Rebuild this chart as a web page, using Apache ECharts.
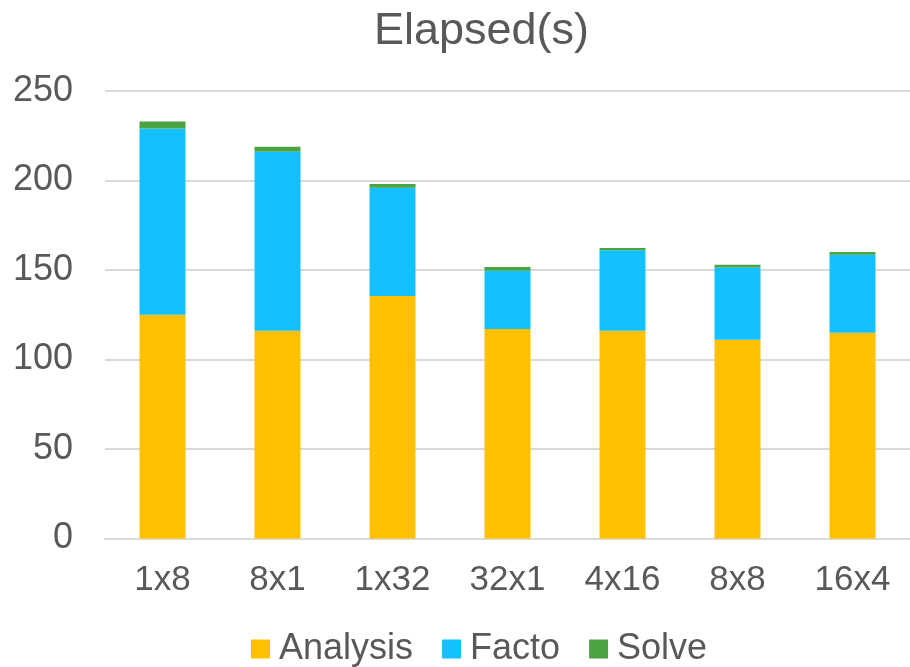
<!DOCTYPE html>
<html>
<head>
<meta charset="utf-8">
<script src="https://cdn.jsdelivr.net/npm/echarts@6/dist/echarts.min.js"></script>
<style>
  html, body { margin: 0; padding: 0; background: #fff; }
  #chart { width: 910px; height: 667px; }
</style>
</head>
<body>
<div id="chart"></div>
<script>
// Process grid layouts (rows x columns)
const categories = ['1x8', '8x1', '1x32', '32x1', '4x16', '8x8', '16x4'];
// Elapsed time per phase, seconds
const analysis = [125, 116, 135.5, 117, 116, 111, 115];
const facto    = [104, 100, 60.5, 32.6, 45, 40.4, 43.5];
const solve    = [4, 2.8, 2, 2.1, 1.3, 1.5, 1.5];
const yTicks   = [0, 50, 100, 150, 200, 250];

const font = '"Liberation Sans", Arial, sans-serif';
const textColor = '#595959';

const chart = echarts.init(document.getElementById('chart'));

function barSeries(name, data, color) {
  return {
    name: name,
    type: 'bar',
    stack: 'total',
    data: data,
    barWidth: '40%',
    itemStyle: { color: color },
    emphasis: { disabled: true }
  };
}

chart.setOption({
  animation: false,
  textStyle: { fontFamily: font },
  title: {
    text: 'Elapsed(s)',
    left: 369,
    top: 4,
    textStyle: { fontFamily: font, fontSize: 45, fontWeight: 'normal', color: textColor }
  },
  legend: {
    top: 626,
    left: 246,
    itemWidth: 19,
    itemHeight: 19,
    itemGap: 29,
    icon: 'rect',
    selectedMode: false,
    textStyle: { fontFamily: font, fontSize: 36, color: textColor, padding: [0, 0, 0, 4] },
    data: ['Analysis', 'Facto', 'Solve']
  },
  grid: {
    left: 105,
    top: 91,
    width: 814,
    height: 447.5,
    containLabel: false
  },
  xAxis: {
    type: 'category',
    data: categories,
    axisLine: { show: true, lineStyle: { color: '#d9d9d9', width: 2 } },
    axisTick: { show: false },
    axisLabel: { fontFamily: font, fontSize: 35, color: textColor, margin: 24 }
  },
  yAxis: {
    type: 'value',
    min: yTicks[0],
    max: yTicks[yTicks.length - 1],
    interval: 50,
    axisLine: { show: false },
    axisTick: { show: false },
    splitLine: { lineStyle: { color: '#d9d9d9', width: 2 } },
    axisLabel: { fontFamily: font, fontSize: 36, color: textColor, margin: 32 }
  },
  series: [
    barSeries('Analysis', analysis, '#FFC000'),
    barSeries('Facto', facto, '#14C1FF'),
    barSeries('Solve', solve, '#4BA443')
  ]
});
</script>
</body>
</html>
